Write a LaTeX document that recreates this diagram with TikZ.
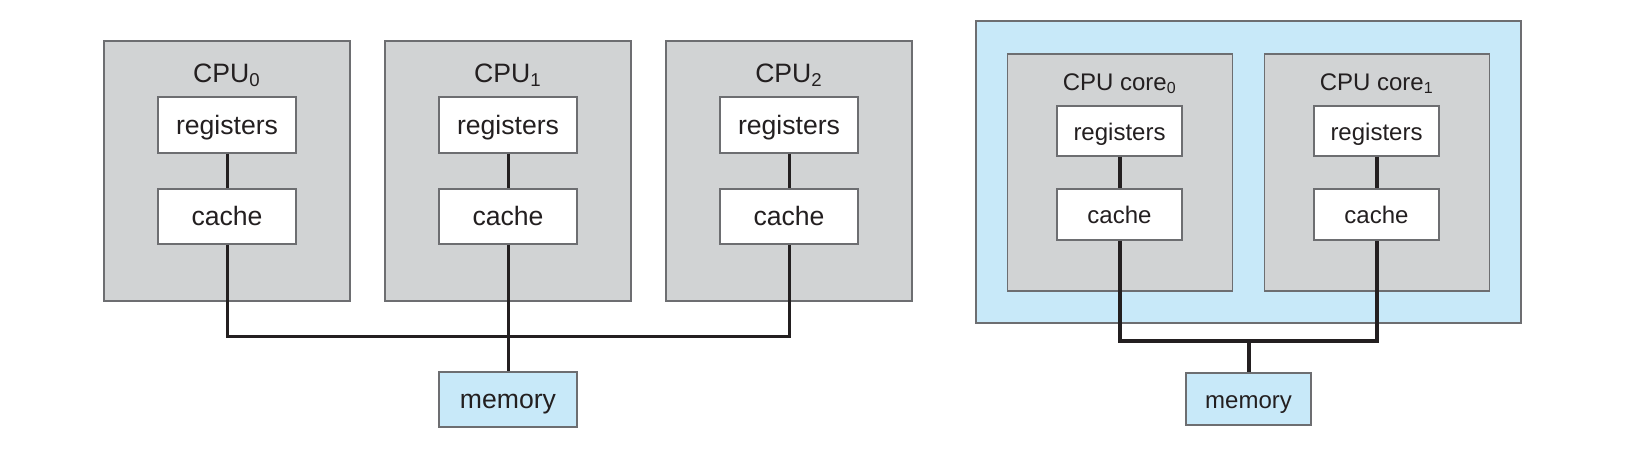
\documentclass[tikz,border=0pt]{standalone}
\usepackage{fontspec}
\setmainfont{Liberation Sans}
\usepackage{xcolor}
\usetikzlibrary{positioning}

\definecolor{boxgray}{HTML}{D1D3D4}
\definecolor{chipblue}{HTML}{C8E9F9}
\definecolor{edgegray}{HTML}{6D6E71}
\definecolor{inkgray}{HTML}{231F20}

\tikzset{
  cpubox/.style={draw=edgegray, fill=boxgray, line width=0.6pt, inner sep=0pt},
  unitbox/.style={draw=edgegray, fill=white, line width=0.6pt, inner sep=0pt, text=inkgray,
    text height=9pt, text depth=0pt},
  membox/.style={draw=edgegray, fill=chipblue, line width=0.6pt, inner sep=0pt, text=inkgray,
    text height=9pt, text depth=0pt},
  cpulabel/.style={anchor=base, inner sep=0pt, text=inkgray},
  bigfont/.style={font=\fontsize{13.3}{16}\selectfont},
  smallfont/.style={font=\fontsize{12}{14}\selectfont},
  wire/.style={draw=inkgray, line width=1.5pt},
  thickwire/.style={draw=inkgray, line width=2pt}
}

\begin{document}
\begin{tikzpicture}[x=0.5pt, y=-0.5pt]
\useasboundingbox (0,0) rectangle (1638,452);

% CPU boxes (left)
\node[cpubox, minimum width=123pt, minimum height=130pt] (cpu0) at (227,171) {};
\node[cpubox, minimum width=123pt, minimum height=130pt] (cpu1) at (508,171) {};
\node[cpubox, minimum width=123pt, minimum height=130pt] (cpu2) at (789,171) {};

\node[cpulabel, bigfont] (lab0) at (227,82) {CPU\textsubscript{0}};
\node[cpulabel, bigfont] (lab1) at (508,82) {CPU\textsubscript{1}};
\node[cpulabel, bigfont] (lab2) at (789,82) {CPU\textsubscript{2}};

\node[unitbox, bigfont, minimum width=69pt, minimum height=28pt] (reg0) at (227,125) {registers};
\node[unitbox, bigfont, minimum width=69pt, minimum height=28pt] (reg1) at (508,125) {registers};
\node[unitbox, bigfont, minimum width=69pt, minimum height=28pt] (reg2) at (789,125) {registers};

\node[unitbox, bigfont, minimum width=69pt, minimum height=27.5pt] (cache0) at (227,216.5) {cache};
\node[unitbox, bigfont, minimum width=69pt, minimum height=27.5pt] (cache1) at (508,216.5) {cache};
\node[unitbox, bigfont, minimum width=69pt, minimum height=27.5pt] (cache2) at (789,216.5) {cache};

\node[membox, bigfont, minimum width=69pt, minimum height=27.5pt] (mem) at (508,399.5) {memory};
\coordinate (bus) at (508,336);

% wires (left)
\draw[wire] (reg0) -- (cache0);
\draw[wire] (reg1) -- (cache1);
\draw[wire] (reg2) -- (cache2);
\draw[wire] (cache0.south) |- (bus) -| (cache2.south);
\draw[wire] (cache1.south) -- (mem.north);

% chip with two cores (right)
\node[membox, minimum width=272.5pt, minimum height=151pt] (chip) at (1248.5,172) {};
\node[cpubox, minimum width=112.5pt, minimum height=118.5pt] (core0) at (1119.75,172.5) {};
\node[cpubox, minimum width=112.5pt, minimum height=118.5pt] (core1) at (1376.75,172.5) {};

\node[cpulabel, smallfont] (clab0) at (1119.75,90) {CPU core\textsubscript{0}};
\node[cpulabel, smallfont] (clab1) at (1376.75,90) {CPU core\textsubscript{1}};

\node[unitbox, smallfont, minimum width=62.5pt, minimum height=25pt] (creg0) at (1119.5,131) {registers};
\node[unitbox, smallfont, minimum width=62.5pt, minimum height=25pt] (creg1) at (1376.5,131) {registers};

\node[unitbox, smallfont, minimum width=62.5pt, minimum height=25.5pt] (ccache0) at (1119.5,214.5) {cache};
\node[unitbox, smallfont, minimum width=62.5pt, minimum height=25.5pt] (ccache1) at (1376.5,214.5) {cache};

\node[membox, smallfont, minimum width=62.5pt, minimum height=26pt] (cmem) at (1248.5,399) {memory};
\coordinate (cbus) at (1248.5,341);

% wires (right)
\draw[thickwire] (creg0) -- (ccache0);
\draw[thickwire] (creg1) -- (ccache1);
\draw[thickwire] (ccache0.south) |- (cbus) -| (ccache1.south);
\draw[thickwire] (cbus) -- (cmem.north);
\end{tikzpicture}
\end{document}
